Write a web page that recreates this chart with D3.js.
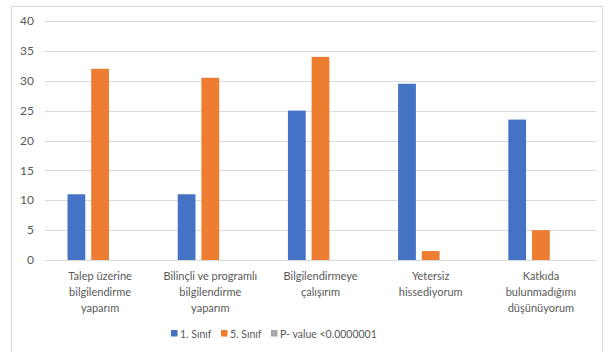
<!DOCTYPE html>
<html><head><meta charset="utf-8">
<script src="https://cdn.jsdelivr.net/npm/d3@7"></script>
<style>body{margin:0;background:#fff}svg{display:block}text{font-family:Lato,"Open Sans",sans-serif;fill:#595959}</style>
</head><body><svg id="c" width="611" height="352"></svg>
<script>
const categories = [["Talep üzerine","bilgilendirme","yaparım"],["Bilinçli ve programlı","bilgilendirme","yaparım"],["Bilgilendirmeye","çalışırım"],["Yetersiz","hissediyorum"],["Katkıda","bulunmadığımı","düşünüyorum"]];
const seriesNames = ["1. Sınıf","5. Sınıf","P- value <0.0000001"];
const sinif1 = [11, 11, 25, 29.5, 23.5];
const sinif5 = [32, 30.5, 34, 1.5, 5];
const pValue = [null, null, null, null, null];
const yTicks = [0,5,10,15,20,25,30,35,40];
const colors = ["#4472C4","#ED7D31","#A5A5A5"];

const svg = d3.select("#c");
svg.append("rect").attr("x",11.5).attr("y",6.5).attr("width",591).attr("height",360).attr("fill","none").attr("stroke","#D9D9D9");
const L=45,R=596,T=21,B=260;
const x = d3.scaleBand().domain(d3.range(categories.length)).range([L,R]);
const y = d3.scaleLinear().domain([0,40]).range([B,T]);
const inner = d3.scaleBand().domain(d3.range(3)).range([0,x.bandwidth()]).paddingInner(0.25).paddingOuter(0.95);

svg.append("g").selectAll("line").data(yTicks).join("line")
  .attr("x1",L).attr("x2",R).attr("y1",d=>Math.round(y(d))+0.5).attr("y2",d=>Math.round(y(d))+0.5)
  .attr("stroke","#D9D9D9").attr("stroke-width",1);
svg.append("g").selectAll("text").data(yTicks).join("text")
  .attr("x",34).attr("y",d=>y(d)).attr("dy","0.35em").attr("text-anchor","end").attr("font-size",12).text(d=>d);

const data=[sinif1,sinif5,pValue];
data.forEach((vals,si)=>{
  svg.append("g").selectAll("rect").data(vals.map((v,i)=>({v,i})).filter(d=>d.v!=null)).join("rect")
   .attr("x",d=>x(d.i)+inner(si)).attr("width",inner.bandwidth())
   .attr("y",d=>y(d.v)).attr("height",d=>y(0)-y(d.v)).attr("fill",colors[si]);
});

const cg=svg.append("g");
categories.forEach((lines,i)=>{
  const t=cg.append("text").attr("text-anchor","middle").attr("font-size",11);
  lines.forEach((ln,j)=>t.append("tspan").attr("x",x(i)+x.bandwidth()/2).attr("y",280+j*16).text(ln));
});

const lg=svg.append("g");
const lx=[171,221,271];
seriesNames.forEach((n,i)=>{
  lg.append("rect").attr("x",lx[i]).attr("y",330).attr("width",6.5).attr("height",6.5).attr("fill",colors[i]);
  lg.append("text").attr("x",lx[i]+9).attr("y",337.5).attr("font-size",10.5).text(n);
});
</script></body></html>
